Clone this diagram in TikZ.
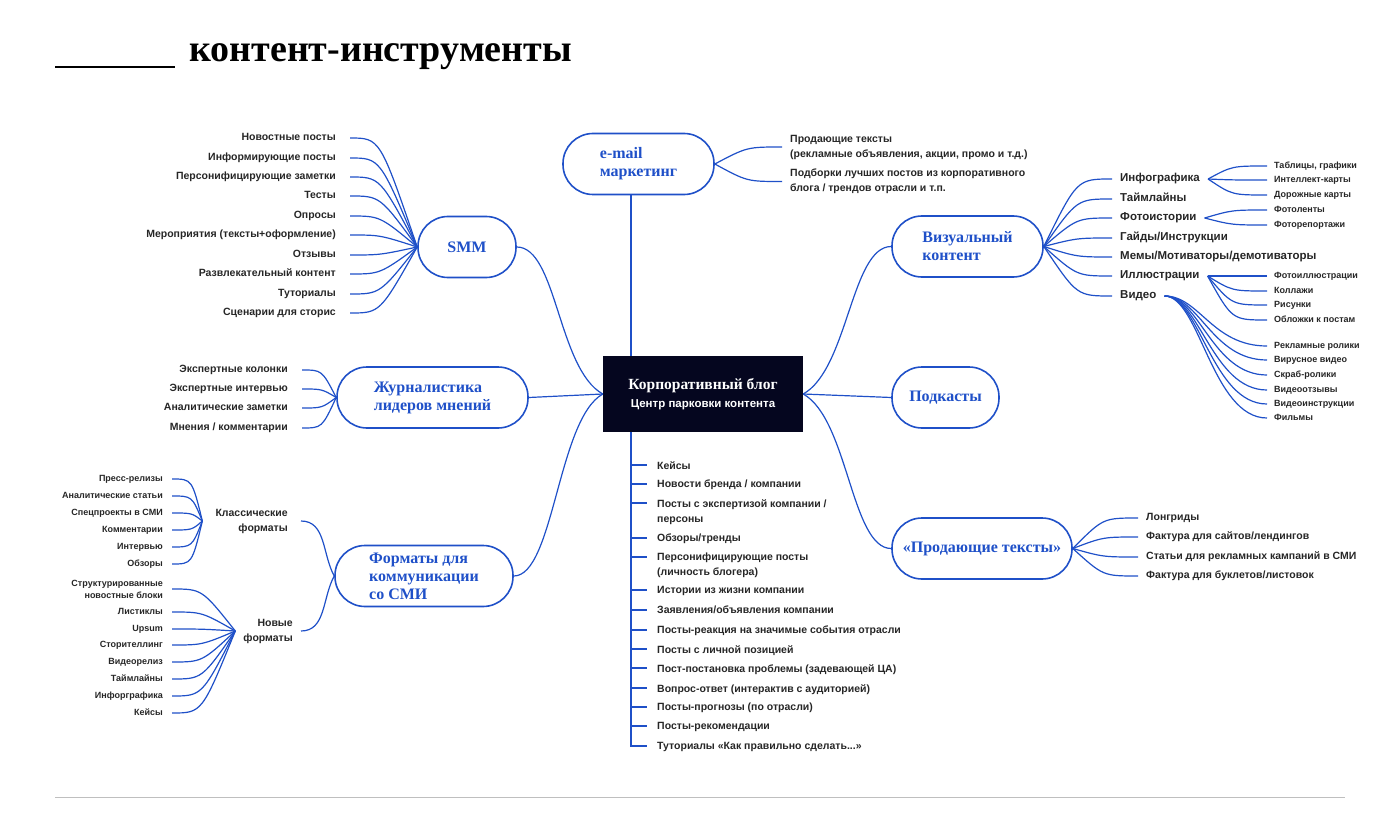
\documentclass[tikz,border=0pt]{standalone}
\usepackage{fontspec}
\setmainfont{Liberation Serif}
\setsansfont{Liberation Sans}
\usetikzlibrary{positioning}
\definecolor{mapblue}{HTML}{1F50C8}
\definecolor{ink}{HTML}{262626}
\definecolor{navy}{HTML}{05061F}

\begin{document}
\begin{tikzpicture}[x=1pt,y=-1pt,
  link/.style={mapblue,line width=1.2pt},
  hub/.style={draw=mapblue,line width=1.6pt,rounded corners=30pt,minimum height=61pt,
    text=mapblue,font=\bfseries\fontsize{16}{18}\selectfont,align=left,inner xsep=0pt},
  item/.style={text=ink,font=\sffamily\bfseries\fontsize{10.5}{15}\selectfont,inner xsep=4pt,inner ysep=1pt},
  bigitem/.style={item,font=\sffamily\bfseries\fontsize{11.5}{15}\selectfont},
  subitem/.style={item,font=\sffamily\bfseries\fontsize{9}{12}\selectfont}
]
  \useasboundingbox (0,0) rectangle (1400,837);

  % title and frame lines
  \draw[line width=2.5pt] (55,67) -- (175,67);
  \node[anchor=west,inner sep=0pt,font=\bfseries\fontsize{38}{40}\selectfont] (title) at (189,57) {контент-инструменты};
  \draw[black!25,line width=0.8pt] (55,797) -- (1345,797);

  % centre
  \node[fill=navy,text=white,minimum width=200pt,minimum height=76pt,align=center,
        font=\fontsize{15.5}{18}\selectfont] (blog) at (703,394)
    {\bfseries Корпоративный блог\\
     \sffamily\bfseries\fontsize{11.5}{18}\selectfont Центр парковки контента};
  \coordinate (spine) at (631,0);

  % branches
  \node[hub,minimum width=98pt] (smm) at (467,247) {SMM};
  \node[hub,minimum width=151pt] (email) at (638.5,164) {e-mail\\маркетинг};
  \node[hub,minimum width=191pt] (journ) at (432.5,397.5) {Журналистика\\лидеров мнений};
  \node[hub,minimum width=178pt] (media) at (424,576) {Форматы для\\коммуникации\\со СМИ};
  \node[hub,minimum width=151pt] (vis) at (967.5,246.5) {Визуальный\\контент};
  \node[hub,minimum width=107pt] (pod) at (945.5,397.5) {Подкасты};
  \node[hub,minimum width=180pt] (sell) at (982,548.5) {«Продающие тексты»};

  \draw[link] (smm.east) .. controls +(40,0) and +(-45,-25) .. (blog.west);
  \draw[link] (journ.east) -- (blog.west);
  \draw[link] (media.east) .. controls +(40,0) and +(-45,25) .. (blog.west);
  \draw[link] (blog.east) .. controls +(45,-25) and +(-40,0) .. (vis.west);
  \draw[link] (blog.east) -- (pod.west);
  \draw[link] (blog.east) .. controls +(45,25) and +(-40,0) .. (sell.west);
  \draw[link] (email.south -| spine) -- (blog.north -| spine);

  % SMM
  \foreach \y/\t [count=\i] in {138/{Новостные посты},158/{Информирующие посты},177/{Персонифицирующие заметки},
      196/{Тесты},216/{Опросы},235/{Мероприятия (тексты+оформление)},255/{Отзывы},
      274/{Развлекательный контент},294/{Туториалы},313/{Сценарии для сторис}}{
    \node[item,inner xsep=14pt,anchor=mid east] (smm\i) at (350,\y) {\t};
    \draw[link] (smm\i.mid east) .. controls +(30,0) .. (smm.west);
  }

  % e-mail
  \node[item,anchor=west,inner xsep=8pt,align=left] (em1) at (782,147)
    {Продающие тексты\\(рекламные объявления, акции, промо и т.д.)};
  \node[item,anchor=west,inner xsep=8pt,align=left] (em2) at (782,181.5)
    {Подборки лучших постов из корпоративного\\блога / трендов отрасли и т.п.};
  \foreach \n in {em1,em2}
    \draw[link] (\n.west) .. controls +(-35,0) .. (email.east);

  % journalism
  \foreach \y/\t [count=\i] in {370/{Экспертные колонки},389/{Экспертные интервью},
      408/{Аналитические заметки},428/{Мнения / комментарии}}{
    \node[item,inner xsep=14pt,anchor=mid east] (jr\i) at (302,\y) {\t};
    \draw[link] (jr\i.mid east) .. controls +(20,0) .. (journ.west);
  }

  % media formats
  \node[item,anchor=east,align=right,inner xsep=13pt] (classic) at (301,521) {Классические\\форматы};
  \node[item,anchor=east,align=right,inner xsep=8pt] (newf) at (301,631) {Новые\\форматы};
  \draw[link] (classic.east) .. controls +(25,0) and +(-12,-22) .. (media.west);
  \draw[link] (newf.east) .. controls +(25,0) and +(-12,22) .. (media.west);

  \foreach \y/\t [count=\i] in {479/{Пресс-релизы},496/{Аналитические статьи},513/{Спецпроекты в СМИ},
      530/{Комментарии},547/{Интервью},564/{Обзоры}}{
    \node[subitem,inner xsep=9pt,anchor=mid east] (cl\i) at (172,\y) {\t};
    \draw[link] (cl\i.mid east) .. controls +(20,0) .. (classic.west);
  }
  \node[subitem,inner xsep=9pt,anchor=east,align=right] (nf0) at (172,589) {Структурированные\\новостные блоки};
  \draw[link] (nf0.east) .. controls +(30,0) .. (newf.west);
  \foreach \y/\t [count=\i] in {612/{Листиклы},629/{Upsum},645/{Сторителлинг},662/{Видеорелиз},
      679/{Таймлайны},696/{Инфорграфика},713/{Кейсы}}{
    \node[subitem,inner xsep=9pt,anchor=mid east] (nf\i) at (172,\y) {\t};
    \draw[link] (nf\i.mid east) .. controls +(30,0) .. (newf.west);
  }

  % visual content
  \foreach \y/\t [count=\i] in {179/{Инфографика},199/{Таймлайны},218/{Фотоистории},238/{Гайды/Инструкции},
      257/{Мемы/Мотиваторы/демотиваторы},276/{Иллюстрации},296/{Видео}}{
    \node[bigitem,inner xsep=8pt,anchor=mid west] (v\i) at (1112,\y) {\t};
    \draw[link] (v\i.mid west) .. controls +(-35,0) .. (vis.east);
  }
  \foreach \y/\t/\p [count=\i] in {166/{Таблицы, графики}/v1,180/{Интеллект-карты}/v1,195/{Дорожные карты}/v1,
      210/{Фотоленты}/v3,225/{Фоторепортажи}/v3,
      276/{Фотоиллюстрации}/v6,291/{Коллажи}/v6,305/{Рисунки}/v6,320/{Обложки к постам}/v6}{
    \node[subitem,inner xsep=7pt,anchor=mid west] (vs\i) at (1267,\y) {\t};
    \draw[link] (vs\i.mid west) .. controls +(-35,0) .. (\p.mid east);
  }
  \foreach \y/\t [count=\i] in {346/{Рекламные ролики},360/{Вирусное видео},375/{Скраб-ролики},
      390/{Видеоотзывы},404/{Видеоинструкции},418/{Фильмы}}{
    \node[subitem,inner xsep=7pt,anchor=mid west] (vd\i) at (1267,\y) {\t};
    \draw[link] (vd\i.mid west) .. controls +(-55,0) and +(35,0) .. (v7.mid east);
  }

  % selling texts
  \foreach \y/\t [count=\i] in {518/{Лонгриды},537/{Фактура для сайтов/лендингов},
      557/{Статьи для рекламных кампаний в СМИ},576/{Фактура для буклетов/листовок}}{
    \node[item,inner xsep=8pt,anchor=mid west] (se\i) at (1138,\y) {\t};
    \draw[link] (se\i.mid west) .. controls +(-35,0) .. (sell.east);
  }

  % blog posts
  \foreach \y/\t [count=\i] in {465/{Кейсы},484/{Новости бренда / компании},
      503/{Посты с экспертизой компании /\\персоны},538/{Обзоры/тренды},
      557/{Персонифицирующие посты\\(личность блогера)},590/{Истории из жизни компании},
      610/{Заявления/объявления компании},630/{Посты-реакция на значимые события отрасли},
      649/{Посты с личной позицией},668/{Пост-постановка проблемы (задевающей ЦА)},
      688/{Вопрос-ответ (интерактив с аудиторией)},707/{Посты-прогнозы (по отрасли)},
      726/{Посты-рекомендации},746/{Туториалы «Как правильно сделать...»}}{
    \node[item,inner ysep=0pt,anchor=north west,align=left] (bp\i) at (653,\y-4) {\t};
    \coordinate (tk\i) at ([xshift=-6pt,yshift=-4pt]bp\i.north west);
    \draw[link] (tk\i -| spine) -- (tk\i);
  }
  \draw[link] (blog.south -| spine) |- (tk14);
\end{tikzpicture}
\end{document}
